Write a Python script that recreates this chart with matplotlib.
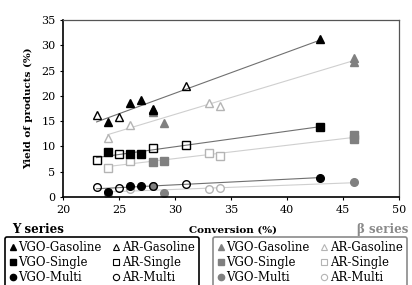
import matplotlib
matplotlib.use("Agg")
import matplotlib.pyplot as plt
from matplotlib.lines import Line2D
import numpy as np

plt.rcParams['font.family'] = ['DejaVu Serif']

# Y series (black)
y_vgo_gas_x = [24, 26, 27, 28, 43]
y_vgo_gas = [14.8, 18.6, 19.2, 17.2, 31.3]
y_ar_gas_x = [23, 25, 28, 31]
y_ar_gas = [16.2, 15.9, 17.3, 21.9]
y_vgo_sin_x = [24, 26, 27, 43]
y_vgo_sin = [8.8, 8.5, 8.5, 13.9]
y_ar_sin_x = [23, 25, 28, 31]
y_ar_sin = [7.4, 8.4, 9.6, 10.3]
y_vgo_mul_x = [24, 26, 27, 43]
y_vgo_mul = [1.0, 2.2, 2.2, 3.8]
y_ar_mul_x = [23, 25, 28, 31]
y_ar_mul = [2.0, 1.8, 2.2, 2.5]

# beta series (grey)
b_vgo_gas_x = [28, 29, 46, 46]
b_vgo_gas = [16.7, 14.7, 26.7, 27.5]
b_ar_gas_x = [24, 26, 33, 34]
b_ar_gas = [11.6, 14.2, 18.5, 18.0]
b_vgo_sin_x = [28, 29, 46, 46]
b_vgo_sin = [6.9, 7.2, 11.4, 12.3]
b_ar_sin_x = [24, 26, 33, 34]
b_ar_sin = [5.8, 7.2, 8.6, 8.1]
b_vgo_mul_x = [28, 29, 46]
b_vgo_mul = [2.2, 0.85, 2.9]
b_ar_mul_x = [24, 26, 33, 34]
b_ar_mul = [0.6, 1.5, 1.5, 1.7]

BLK = 'black'
GRY = '#808080'
LGT = '#b4b4b4'
LINE_Y = '#707070'
LINE_B = '#cfcfcf'

fig = plt.figure(figsize=(4.12, 2.85), dpi=100)
ax = fig.add_axes([0.153, 0.309, 0.815, 0.621])


def trend(xa, ya, xb, yb, col):
    xs = np.array(xa + xb, float)
    ys = np.array(ya + yb, float)
    k, b = np.polyfit(xs, ys, 1)
    xx = np.array([xs.min(), xs.max()])
    ax.plot(xx, k * xx + b, color=col, lw=0.8, zorder=1)


trend(y_vgo_gas_x, y_vgo_gas, y_ar_gas_x, y_ar_gas, LINE_Y)
trend(y_vgo_sin_x, y_vgo_sin, y_ar_sin_x, y_ar_sin, LINE_Y)
trend(y_vgo_mul_x, y_vgo_mul, y_ar_mul_x, y_ar_mul, LINE_Y)
trend(b_vgo_gas_x, b_vgo_gas, b_ar_gas_x, b_ar_gas, LINE_B)
trend(b_vgo_sin_x, b_vgo_sin, b_ar_sin_x, b_ar_sin, LINE_B)
trend(b_vgo_mul_x, b_vgo_mul, b_ar_mul_x, b_ar_mul, LINE_B)

ms = 6
# beta first, then Y on top
ax.plot(b_vgo_gas_x, b_vgo_gas, '^', color=GRY, ms=ms, ls='none', zorder=2)
ax.plot(b_ar_gas_x, b_ar_gas, '^', mfc='white', mec=LGT, mew=1, ms=ms, ls='none', zorder=2)
ax.plot(b_vgo_sin_x, b_vgo_sin, 's', color=GRY, ms=ms - 0.5, ls='none', zorder=2)
ax.plot(b_ar_sin_x, b_ar_sin, 's', mfc='white', mec=LGT, mew=1, ms=ms - 0.5, ls='none', zorder=2)
ax.plot(b_vgo_mul_x, b_vgo_mul, 'o', color=GRY, ms=ms - 0.5, ls='none', zorder=2)
ax.plot(b_ar_mul_x, b_ar_mul, 'o', mfc='white', mec=LGT, mew=1, ms=ms - 0.5, ls='none', zorder=2)

ax.plot(y_vgo_gas_x, y_vgo_gas, '^', color=BLK, ms=ms, ls='none', zorder=3)
ax.plot(y_ar_gas_x, y_ar_gas, '^', mfc='none', mec=BLK, mew=1, ms=ms, ls='none', zorder=3)
ax.plot(y_vgo_sin_x, y_vgo_sin, 's', color=BLK, ms=ms - 0.5, ls='none', zorder=3)
ax.plot(y_ar_sin_x, y_ar_sin, 's', mfc='none', mec=BLK, mew=1, ms=ms - 0.5, ls='none', zorder=3)
ax.plot(y_vgo_mul_x, y_vgo_mul, 'o', color=BLK, ms=ms - 0.5, ls='none', zorder=3)
ax.plot(y_ar_mul_x, y_ar_mul, 'o', mfc='none', mec=BLK, mew=1, ms=ms - 0.5, ls='none', zorder=3)

ax.set_xlim(20, 50)
ax.set_ylim(0, 35)
ax.set_xticks(range(20, 51, 5))
ax.set_yticks(range(0, 36, 5))
ax.tick_params(labelsize=8, length=2, width=0.8, direction='out')
ax.spines['left'].set_linewidth(1.2)
ax.spines['bottom'].set_linewidth(1.2)
for s in ('top', 'right'):
    ax.spines[s].set_color('#555555')
    ax.spines[s].set_linewidth(0.9)

ax.set_ylabel('Yield of products (%)', fontsize=7.5, fontweight='bold', labelpad=6)

fig.text(0.565, 0.193, 'Conversion (%)', fontsize=7.5, fontweight='bold',
         ha='center', va='center')
fig.text(0.03, 0.193, 'Y series', fontsize=8.5, fontweight='bold', ha='left', va='center')
fig.text(0.99, 0.193, 'β series', fontsize=8.5, fontweight='bold', color='#8a8a8a',
         ha='right', va='center')


def handles(fill, hollow_edge, hollow_face):
    # legend fills column by column: VGO entries first, AR entries second
    h = []
    labels = []
    for m, name in (('^', 'Gasoline'), ('s', 'Single'), ('o', 'Multi')):
        h.append(Line2D([], [], marker=m, ls='none', color=fill, ms=4.5))
        labels.append('VGO-' + name)
    for m, name in (('^', 'Gasoline'), ('s', 'Single'), ('o', 'Multi')):
        h.append(Line2D([], [], marker=m, ls='none', mfc=hollow_face, mec=hollow_edge,
                        mew=0.8, ms=4.5))
        labels.append('AR-' + name)
    return h, labels


for fill, he, hf, x0, ec in ((BLK, BLK, 'none', 0.012, 'black'),
                             (GRY, LGT, 'white', 0.517, '#8a8a8a')):
    h, lab = handles(fill, he, hf)
    leg = fig.legend(h, lab, ncol=2, loc='upper left', bbox_to_anchor=(x0, 0.168),
                     frameon=True, fancybox=True, fontsize=8.5, handlelength=0.6,
                     handletextpad=0.2, columnspacing=0.9, labelspacing=0.15,
                     borderpad=0.35, borderaxespad=0)
    fr = leg.get_frame()
    fr.set_edgecolor(ec)
    fr.set_linewidth(1.2)
    fr.set_alpha(1)

fig.savefig('out.png', dpi=100)
